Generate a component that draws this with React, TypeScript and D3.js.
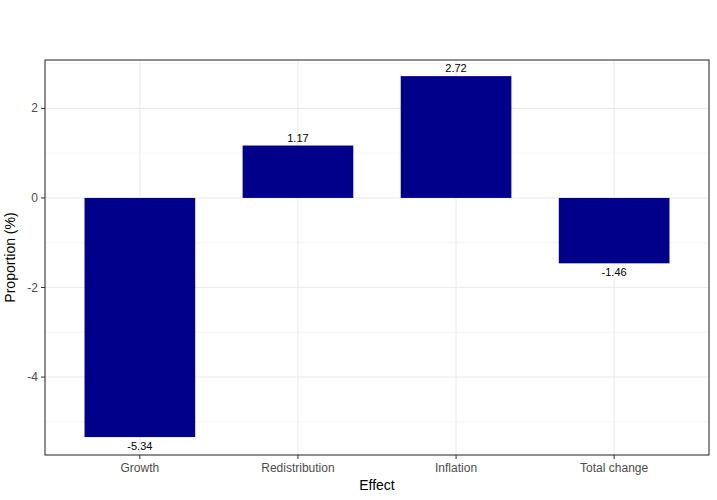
import * as d3 from 'd3';

const categories = ['Growth', 'Redistribution', 'Inflation', 'Total change'];
const values = [-5.34, 1.17, 2.72, -1.46];
const yTicks = [-4, -2, 0, 2];
const yMinor = [-5, -3, -1, 1, 3];

export default function App() {
  const width = 717;
  const height = 500;
  const margin = { top: 60, right: 8, bottom: 45, left: 45 };
  const innerW = width - margin.left - margin.right;
  const innerH = height - margin.top - margin.bottom;

  const x = d3.scaleLinear().domain([0.4, categories.length + 0.6]).range([0, innerW]);
  const y = d3.scaleLinear().domain([-5.74, 3.08]).range([innerH, 0]);
  const bw = x(1.35) - x(0.65);
  const font = 'Arial, "Liberation Sans", sans-serif';

  return (
    <svg width={width} height={height} style={{ position: 'absolute', left: 0, top: 0 }}>
      <rect width={width} height={height} fill="#fff" />
      <g transform={`translate(${margin.left},${margin.top})`} fontFamily={font}>
        {yMinor.map((t) => (
          <line key={'m' + t} x1={0} x2={innerW} y1={y(t)} y2={y(t)} stroke="#f0f0f0" strokeWidth={0.6} />
        ))}
        {yTicks.map((t) => (
          <line key={'g' + t} x1={0} x2={innerW} y1={y(t)} y2={y(t)} stroke="#ebebeb" strokeWidth={1.1} />
        ))}
        {categories.map((c, i) => (
          <line key={'v' + c} x1={x(i + 1)} x2={x(i + 1)} y1={0} y2={innerH} stroke="#ebebeb" strokeWidth={1.1} />
        ))}
        {values.map((v, i) => (
          <rect key={i} x={x(i + 1) - bw / 2} width={bw} y={y(Math.max(0, v))} height={Math.abs(y(v) - y(0))} fill="#00008b" />
        ))}
        {values.map((v, i) => (
          <text key={'l' + i} x={x(i + 1)} y={v >= 0 ? y(v) - 4 : y(v) + 13} textAnchor="middle" fontSize={11} fill="#000">
            {v.toFixed(2)}
          </text>
        ))}
        <rect x={0} y={0} width={innerW} height={innerH} fill="none" stroke="#333" strokeWidth={1.1} />
        {yTicks.map((t) => (
          <g key={'t' + t}>
            <line x1={-4} x2={0} y1={y(t)} y2={y(t)} stroke="#333" />
            <text x={-7} y={y(t) + 4} textAnchor="end" fontSize={12} fill="#4d4d4d">{t}</text>
          </g>
        ))}
        {categories.map((c, i) => (
          <g key={'x' + c}>
            <line x1={x(i + 1)} x2={x(i + 1)} y1={innerH} y2={innerH + 4} stroke="#333" />
            <text x={x(i + 1)} y={innerH + 17} textAnchor="middle" fontSize={12} fill="#4d4d4d">{c}</text>
          </g>
        ))}
        <text x={innerW / 2} y={innerH + 35} textAnchor="middle" fontSize={14} fill="#000">Effect</text>
        <text transform={`translate(-30,${innerH / 2}) rotate(-90)`} textAnchor="middle" fontSize={14} fill="#000">Proportion (%)</text>
      </g>
    </svg>
  );
}
